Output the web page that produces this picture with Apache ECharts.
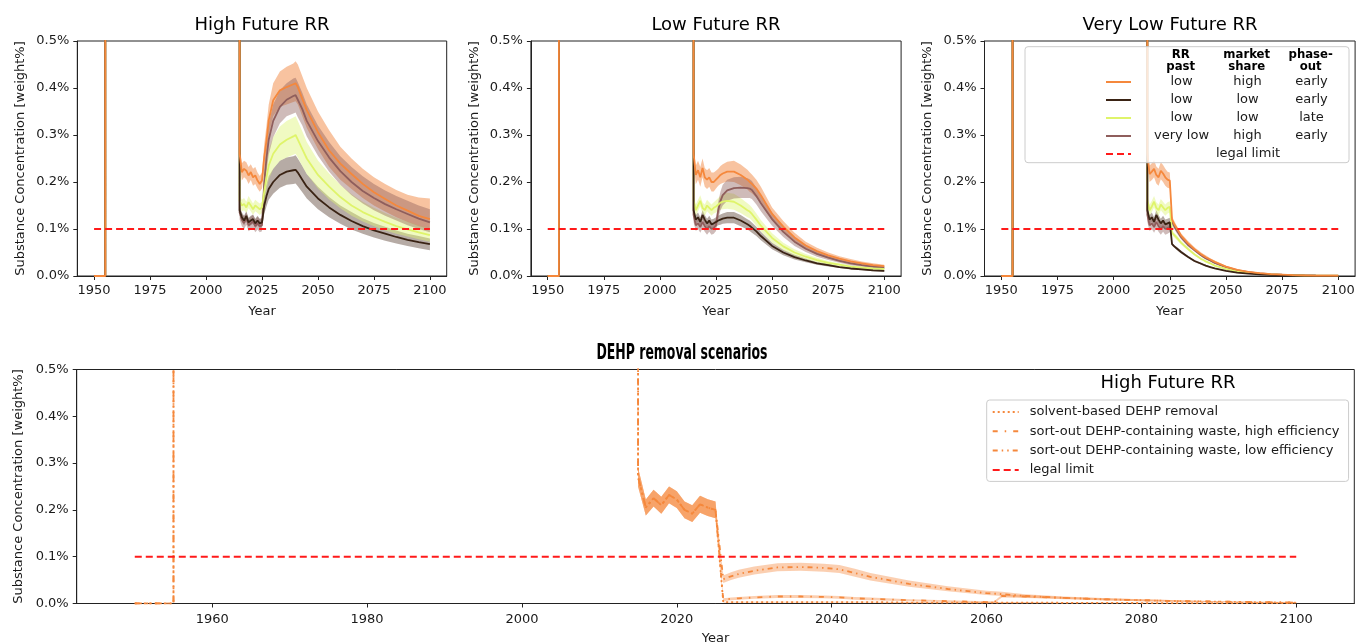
<!DOCTYPE html>
<html><head><meta charset="utf-8">
<script src="https://cdn.jsdelivr.net/npm/echarts@6/dist/echarts.min.js"></script>
<style>html,body{margin:0;padding:0;background:#fff}#c{width:1356px;height:644px}</style>
</head><body><div id="c"></div>
<script>
// ---------- shared axes ----------
const xTicksTop = [1950, 1975, 2000, 2025, 2050, 2075, 2100];
const xTicksBottom = [1960, 1980, 2000, 2020, 2040, 2060, 2080, 2100];
const panelTitles = ['High Future RR', 'Low Future RR', 'Very Low Future RR'];
const legalYears = [1950, 2100];
const legalValues = [0.1, 0.1];
// before 2015 all runs: zero until 1955, then above the 0.5% axis top until 2015
const preYears = [1950, 1955, 1955, 2015];
const preValues = [0, 0, 0.6, 0.6];

// ---------- top panels ----------
const years = [2015,2016,2017,2018,2019,2020,2021,2022,2023,2024,2025,2026,2027,2028,2030,2033,2036,2039,2040,2041,2043,2045,2050,2055,2060,2065,2070,2075,2080,2085,2090,2095,2100];
const legendRows = [['low','high','early'],['low','low','early'],['low','low','late'],['very low','high','early']];

// High future RR
const hOrange   = [.26,.221,.228,.224,.214,.221,.21,.214,.203,.196,.203,.253,.288,.331,.374,.395,.402,.408,.41,.402,.377,.353,.306,.267,.239,.217,.196,.178,.164,.15,.139,.128,.121];
const hOrangeHi = [.28,.24,.245,.242,.232,.238,.228,.232,.22,.213,.22,.28,.32,.365,.41,.435,.445,.452,.457,.45,.425,.4,.35,.31,.275,.25,.228,.21,.196,.183,.173,.167,.165];
const hOrangeLo = [.24,.203,.21,.206,.196,.204,.192,.196,.186,.179,.186,.225,.26,.3,.34,.36,.365,.37,.372,.365,.34,.315,.27,.232,.205,.185,.166,.15,.137,.125,.115,.106,.1];
const hBlack    = [.14,.125,.118,.128,.114,.118,.121,.112,.118,.112,.114,.15,.17,.185,.2,.215,.222,.225,.226,.22,.205,.19,.165,.146,.13,.117,.106,.097,.09,.083,.077,.072,.068];
const hBlackHi  = [.15,.135,.128,.138,.124,.128,.131,.122,.128,.122,.124,.17,.195,.212,.228,.245,.252,.255,.257,.25,.234,.217,.19,.168,.15,.136,.123,.113,.105,.097,.09,.085,.08];
const hBlackLo  = [.13,.115,.108,.118,.104,.108,.111,.102,.108,.102,.104,.132,.148,.162,.175,.188,.194,.196,.197,.191,.178,.165,.142,.125,.111,.099,.09,.082,.075,.069,.064,.059,.055];
const hYellow   = [.16,.15,.153,.146,.157,.15,.142,.15,.146,.142,.146,.18,.21,.235,.26,.28,.29,.297,.3,.29,.27,.25,.215,.19,.168,.15,.136,.125,.115,.106,.099,.093,.087];
const hYellowHi = [.172,.162,.166,.158,.17,.162,.154,.162,.158,.154,.158,.205,.24,.268,.295,.318,.33,.337,.34,.33,.308,.285,.246,.218,.194,.174,.158,.145,.134,.124,.116,.108,.1];
const hYellowLo = [.148,.138,.14,.134,.144,.138,.13,.138,.134,.13,.134,.158,.182,.205,.228,.245,.252,.258,.26,.252,.234,.217,.186,.163,.144,.128,.116,.106,.097,.09,.084,.078,.073];
const hBrown    = [.135,.12,.113,.123,.108,.112,.116,.106,.112,.106,.108,.2,.25,.29,.33,.36,.375,.383,.385,.375,.355,.33,.287,.252,.223,.2,.181,.166,.153,.142,.132,.122,.114];
const hBrownHi  = [.15,.132,.127,.136,.122,.126,.13,.12,.126,.12,.122,.225,.28,.325,.365,.395,.41,.42,.422,.412,.39,.365,.32,.285,.255,.232,.212,.196,.182,.17,.16,.15,.142];
const hBrownLo  = [.12,.106,.1,.109,.095,.099,.102,.093,.099,.093,.095,.175,.222,.258,.295,.325,.34,.346,.348,.338,.32,.297,.256,.222,.194,.172,.154,.14,.128,.118,.108,.1,.093];

// Low future RR
const lOrange   = [.26,.215,.225,.21,.23,.21,.205,.21,.2,.2,.205,.21,.215,.218,.222,.222,.215,.205,.2,.196,.186,.172,.132,.105,.082,.065,.053,.044,.037,.031,.027,.023,.021];
const lOrangeHi = [.28,.235,.245,.232,.25,.23,.225,.23,.22,.22,.224,.228,.234,.238,.243,.245,.237,.226,.221,.216,.205,.19,.146,.117,.092,.073,.06,.05,.042,.036,.031,.027,.024];
const lOrangeLo = [.24,.195,.205,.19,.21,.19,.185,.19,.18,.18,.186,.192,.196,.198,.201,.2,.193,.184,.179,.176,.167,.154,.118,.093,.072,.057,.046,.038,.032,.026,.023,.019,.018];
const lBlack    = [.14,.12,.125,.115,.13,.12,.112,.118,.11,.112,.115,.118,.12,.122,.124,.124,.118,.11,.107,.103,.095,.085,.064,.05,.04,.033,.027,.023,.019,.016,.014,.012,.011];
const lBlackHi  = [.15,.13,.135,.125,.14,.13,.122,.128,.12,.122,.125,.128,.131,.133,.136,.136,.13,.121,.118,.114,.105,.094,.071,.056,.045,.037,.03,.026,.021,.018,.016,.014,.013];
const lBlackLo  = [.13,.11,.115,.105,.12,.11,.102,.108,.1,.102,.105,.108,.109,.111,.112,.112,.106,.099,.096,.092,.085,.076,.057,.044,.035,.029,.024,.02,.017,.014,.012,.01,.009];
const lYellow   = [.16,.14,.15,.16,.145,.14,.15,.145,.14,.145,.148,.152,.156,.158,.16,.158,.15,.14,.137,.132,.12,.107,.081,.063,.05,.041,.034,.028,.024,.02,.018,.016,.015];
const lYellowHi = [.172,.152,.162,.172,.157,.152,.162,.157,.152,.157,.161,.166,.171,.174,.177,.175,.166,.155,.151,.146,.133,.119,.091,.071,.057,.047,.039,.032,.027,.023,.021,.018,.017];
const lYellowLo = [.148,.128,.138,.148,.133,.128,.138,.133,.128,.133,.135,.138,.141,.142,.143,.141,.134,.125,.123,.118,.107,.095,.071,.055,.043,.035,.029,.024,.021,.017,.015,.014,.013];
const lBrown    = [.13,.108,.112,.104,.115,.106,.1,.106,.1,.102,.108,.14,.16,.172,.182,.187,.188,.187,.186,.183,.17,.155,.121,.094,.073,.058,.047,.039,.032,.027,.023,.02,.018];
const lBrownHi  = [.145,.12,.124,.116,.128,.118,.112,.118,.112,.114,.12,.158,.18,.194,.205,.21,.211,.208,.206,.202,.188,.172,.135,.105,.082,.065,.053,.044,.036,.031,.026,.023,.021];
const lBrownLo  = [.115,.096,.1,.092,.102,.094,.088,.094,.088,.09,.096,.122,.14,.15,.16,.165,.166,.166,.166,.164,.152,.138,.107,.083,.064,.051,.041,.034,.028,.023,.02,.017,.015];

// Very low future RR
const vOrange   = [.26,.217,.222,.228,.215,.21,.224,.218,.21,.205,.203,.12,.11,.102,.086,.07,.057,.046,.043,.04,.035,.03,.02,.013,.009,.006,.004,.003,.002,.0015,.001,.001,.001];
const vOrangeHi = [.28,.235,.24,.247,.233,.228,.242,.236,.228,.222,.22,.127,.117,.108,.091,.075,.061,.05,.047,.044,.038,.033,.022,.015,.01,.007,.005,.004,.003,.002,.002,.0015,.0015];
const vOrangeLo = [.24,.2,.204,.21,.197,.192,.206,.2,.192,.188,.186,.113,.103,.096,.081,.065,.053,.042,.039,.036,.032,.027,.018,.011,.008,.005,.003,.002,.0015,.001,.0005,.0005,.0005];
const vBlack    = [.14,.12,.125,.115,.13,.12,.112,.118,.11,.112,.114,.068,.063,.059,.051,.041,.032,.026,.024,.022,.019,.016,.011,.007,.005,.0033,.0022,.0015,.001,.0007,.0005,.0004,.0003];
const vBlackHi  = [.15,.13,.135,.125,.14,.13,.122,.128,.12,.122,.124,.071,.066,.062,.054,.043,.034,.028,.026,.024,.02,.017,.012,.008,.0055,.0037,.0025,.0017,.0012,.0008,.0006,.0005,.0004];
const vBlackLo  = [.13,.11,.115,.105,.12,.11,.102,.108,.1,.102,.104,.065,.06,.056,.048,.039,.03,.024,.022,.02,.018,.015,.01,.006,.0045,.003,.002,.0013,.0008,.0006,.0004,.0003,.0002];
const vYellow   = [.16,.14,.148,.158,.145,.14,.152,.146,.14,.145,.147,.092,.087,.082,.071,.058,.046,.036,.034,.031,.027,.022,.015,.01,.007,.0048,.0033,.0023,.0016,.0011,.0008,.0006,.0005];
const vYellowHi = [.172,.152,.16,.17,.157,.152,.164,.158,.152,.157,.159,.097,.092,.087,.075,.061,.049,.038,.036,.033,.029,.024,.016,.011,.008,.0053,.0037,.0026,.0018,.0013,.0009,.0007,.0006];
const vYellowLo = [.148,.128,.136,.146,.133,.128,.14,.134,.128,.133,.135,.087,.082,.077,.067,.055,.043,.034,.032,.029,.025,.02,.014,.009,.006,.0043,.0029,.002,.0014,.0009,.0007,.0005,.0004];
const vBrown    = [.13,.108,.112,.104,.115,.106,.1,.106,.1,.102,.105,.115,.106,.098,.083,.067,.055,.044,.041,.038,.033,.028,.019,.012,.008,.0055,.0037,.0027,.0018,.0013,.001,.0008,.0008];
const vBrownHi  = [.145,.12,.124,.116,.128,.118,.112,.118,.112,.114,.117,.122,.112,.104,.088,.071,.058,.047,.044,.041,.035,.03,.021,.013,.009,.006,.004,.003,.002,.0015,.0012,.001,.001];
const vBrownLo  = [.115,.096,.1,.092,.102,.094,.088,.094,.088,.09,.093,.108,.1,.092,.078,.063,.052,.041,.038,.035,.031,.026,.017,.011,.007,.005,.0033,.0024,.0016,.0011,.0008,.0006,.0006];

// ---------- bottom panel: DEHP removal scenarios (High Future RR) ----------
const bYears = [2015,2016,2017,2018,2019,2020,2021,2022,2023,2024,2025,2026,2027,2028,2030,2033,2036,2039,2041,2043,2045,2050,2055,2060,2061,2062,2065,2070,2075,2080,2085,2090,2095,2100];
const scenarioNames = ['solvent-based DEHP removal','sort-out DEHP-containing waste, high efficiency','sort-out DEHP-containing waste, low efficiency'];
const solvent   = [.27,.205,.225,.21,.232,.222,.2,.192,.212,.205,.2,.003,.003,.003,.003,.003,.003,.003,.003,.003,.003,.002,.002,.002,.002,.002,.002,.0015,.0015,.001,.001,.001,.001,.001];
const solventHi = [.29,.222,.243,.228,.25,.24,.218,.21,.23,.223,.218,.004,.004,.004,.004,.004,.004,.004,.004,.004,.004,.003,.003,.003,.003,.003,.003,.002,.002,.0015,.0015,.0015,.0015,.0015];
const solventLo = [.25,.188,.207,.192,.214,.204,.182,.174,.194,.187,.182,.002,.002,.002,.002,.002,.002,.002,.002,.002,.002,.001,.001,.001,.001,.001,.001,.001,.001,.0005,.0005,.0005,.0005,.0005];
const highEff   = [.27,.205,.225,.21,.232,.222,.2,.192,.212,.205,.2,.008,.01,.011,.013,.015,.015,.014,.013,.011,.01,.007,.005,.003,.003,.016,.015,.012,.009,.007,.005,.004,.003,.002];
const highEffHi = [.29,.222,.243,.228,.25,.24,.218,.21,.23,.223,.218,.011,.013,.014,.016,.018,.018,.017,.016,.014,.013,.009,.007,.005,.005,.019,.018,.014,.011,.009,.007,.005,.004,.003];
const highEffLo = [.25,.188,.207,.192,.214,.204,.182,.174,.194,.187,.182,.005,.007,.008,.01,.012,.012,.011,.01,.008,.007,.005,.003,.001,.001,.013,.012,.01,.007,.005,.003,.003,.002,.001];
const lowEff    = [.27,.205,.225,.21,.232,.222,.2,.192,.212,.205,.2,.052,.058,.063,.07,.077,.078,.076,.073,.065,.057,.042,.031,.022,.021,.02,.016,.012,.009,.007,.005,.004,.003,.002];
const lowEffHi  = [.29,.222,.243,.228,.25,.24,.218,.21,.23,.223,.218,.06,.067,.072,.079,.086,.087,.085,.082,.074,.065,.049,.037,.027,.026,.025,.02,.015,.012,.009,.007,.005,.004,.003];
const lowEffLo  = [.25,.188,.207,.192,.214,.204,.182,.174,.194,.187,.182,.044,.05,.055,.062,.069,.07,.068,.065,.057,.049,.036,.026,.018,.017,.016,.013,.009,.007,.005,.004,.003,.002,.001];

// ---------- styling ----------
const FONT = 'DejaVu Sans';
const TXT = '#1a1a1a';
const LINE_COL = { orange: '#f5883c', black: '#3a2314', yellow: '#dff46a', brown: '#8f5e5c' };
const BAND_COL = { orange: 'rgba(242,136,66,0.5)', black: 'rgba(80,55,40,0.42)', yellow: 'rgba(222,245,120,0.45)', brown: 'rgba(140,92,88,0.42)' };
const LEGAL_COL = '#ff1a1a';
const gridsPx = [
  { left: 77.3, top: 41, width: 369.4, height: 235 },
  { left: 530.9, top: 41, width: 370.2, height: 235 },
  { left: 984.5, top: 41, width: 370.6, height: 235 },
  { left: 76.7, top: 369.5, width: 1277.6, height: 234 }
];

const pts = (xs, ys) => xs.map((x, i) => [x, ys[i]]);
const rowName = r => r.join(' / ');

const panels = [
  { orange: [hOrange, hOrangeLo, hOrangeHi], black: [hBlack, hBlackLo, hBlackHi], yellow: [hYellow, hYellowLo, hYellowHi], brown: [hBrown, hBrownLo, hBrownHi] },
  { orange: [lOrange, lOrangeLo, lOrangeHi], black: [lBlack, lBlackLo, lBlackHi], yellow: [lYellow, lYellowLo, lYellowHi], brown: [lBrown, lBrownLo, lBrownHi] },
  { orange: [vOrange, vOrangeLo, vOrangeHi], black: [vBlack, vBlackLo, vBlackHi], yellow: [vYellow, vYellowLo, vYellowHi], brown: [vBrown, vBrownLo, vBrownHi] }
];
const keyOrder = ['orange', 'black', 'yellow', 'brown'];

const series = [];
// uncertainty band: one polygon through the axis scales (upper edge forward, lower edge back)
function band(gi, xs, lo, hi, color) {
  series.push({
    type: 'custom', xAxisIndex: gi, yAxisIndex: gi, silent: true, clip: true, z: 2,
    data: xs.map((x, i) => [x, lo[i], hi[i]]),
    encode: { x: 0, y: [1, 2] },
    renderItem: (params, api) => {
      if (params.dataIndex !== 0) return null;
      const up = xs.map((x, i) => api.coord([x, hi[i]]));
      const dn = xs.map((x, i) => api.coord([x, lo[i]])).reverse();
      return { type: 'polygon', shape: { points: up.concat(dn) }, style: { fill: color } };
    }
  });
}
function legal(gi) {
  series.push({ name: 'legal limit', type: 'line', xAxisIndex: gi, yAxisIndex: gi, data: pts(legalYears, legalValues), symbol: 'none', lineStyle: { color: LEGAL_COL, width: 2, type: [7, 4] }, itemStyle: { color: LEGAL_COL }, z: 4 });
}

panels.forEach((p, gi) => {
  keyOrder.forEach(k => band(gi, years, p[k][1], p[k][2], BAND_COL[k]));
  ['brown', 'yellow', 'black', 'orange'].forEach(k => {
    const idx = keyOrder.indexOf(k);
    series.push({ name: rowName(legendRows[idx]), type: 'line', xAxisIndex: gi, yAxisIndex: gi, symbol: 'none',
      data: pts(preYears, preValues).concat(pts(years, p[k][0])),
      lineStyle: { color: LINE_COL[k], width: 1.8 }, itemStyle: { color: LINE_COL[k] }, z: 3 });
  });
  legal(gi);
});

// bottom panel
const scen = [[solvent, solventLo, solventHi], [highEff, highEffLo, highEffHi], [lowEff, lowEffLo, lowEffHi]];
const scenDash = [[2, 3], [5, 7, 1.5, 7], [5, 4, 1.5, 4, 1.5, 4]];
scen.forEach((s, i) => band(3, bYears, s[1], s[2], 'rgba(245,140,70,0.42)'));
[2, 1, 0].forEach(i => {
  series.push({ name: scenarioNames[i], type: 'line', xAxisIndex: 3, yAxisIndex: 3, symbol: 'none',
    data: pts(preYears, preValues).concat(pts(bYears, scen[i][0])),
    lineStyle: { color: LINE_COL.orange, width: 1.8, type: scenDash[i] }, itemStyle: { color: LINE_COL.orange }, z: 3 });
});
legal(3);

const xAxes = gridsPx.map((g, i) => ({
  type: 'value', gridIndex: i, min: 1942.5, max: 2107.5,
  name: 'Year', nameLocation: 'middle', nameGap: 29,
  nameTextStyle: { fontFamily: FONT, fontSize: 13, color: TXT },
  axisLine: { show: true, lineStyle: { color: '#222', width: 1 } },
  axisTick: { show: true, inside: false, length: 4, lineStyle: { color: '#222' }, customValues: i < 3 ? xTicksTop : xTicksBottom },
  axisLabel: { show: true, margin: i < 3 ? 8 : 10, fontFamily: FONT, fontSize: 13, color: TXT, customValues: i < 3 ? xTicksTop : xTicksBottom, formatter: v => String(v) },
  splitLine: { show: false }
}));
const yAxes = gridsPx.map((g, i) => ({
  type: 'value', gridIndex: i, min: 0, max: 0.5, interval: 0.1,
  name: 'Substance Concentration [weight%]', nameLocation: 'middle', nameGap: 50,
  nameTextStyle: { fontFamily: FONT, fontSize: 13, color: TXT },
  axisLine: { show: true, lineStyle: { color: '#222', width: 1 } },
  axisTick: { show: true, inside: false, length: 4, lineStyle: { color: '#222' } },
  axisLabel: { margin: 8, fontFamily: FONT, fontSize: 13, color: TXT, formatter: v => v.toFixed(1) + '%' },
  splitLine: { show: false }
}));

const titleBase = { padding: 0, textAlign: 'center', textStyle: { fontFamily: FONT, fontSize: 18, fontWeight: 'normal', color: '#000' } };
const titles = [
  Object.assign({}, titleBase, { text: panelTitles[0], left: 262, top: 16 }),
  Object.assign({}, titleBase, { text: panelTitles[1], left: 716, top: 16 }),
  Object.assign({}, titleBase, { text: panelTitles[2], left: 1170, top: 16 }),
  Object.assign({}, titleBase, { text: panelTitles[0], left: 1168, top: 374 })
];

const colRich = {
  a: { width: 91, align: 'center', fontFamily: FONT, fontSize: 13, color: TXT, lineHeight: 14 },
  b: { width: 41, align: 'center', fontFamily: FONT, fontSize: 13, color: TXT, lineHeight: 14 },
  c: { width: 87, align: 'center', fontFamily: FONT, fontSize: 13, color: TXT, lineHeight: 14 },
  s: { width: 72, fontFamily: FONT, fontSize: 13, lineHeight: 14 },
  l: { width: 80, align: 'center', fontFamily: FONT, fontSize: 13, color: TXT, lineHeight: 14 }
};
const headStyle = { align: 'center', verticalAlign: 'middle', fontFamily: 'DejaVu Sans Condensed', fontWeight: 'bold', fontSize: 13, lineHeight: 12, fill: '#000' };

const option = {
  animation: false,
  backgroundColor: '#fff',
  title: titles,
  grid: gridsPx.map(g => Object.assign({ show: true, borderColor: '#222', borderWidth: 1, backgroundColor: 'transparent', containLabel: false, outerBoundsMode: 'none' }, g)),
  xAxis: xAxes,
  yAxis: yAxes,
  legend: [
    {
      data: legendRows.map(rowName).concat(['legal limit']),
      orient: 'vertical', left: 1105, top: 75.5, padding: 0, itemGap: 5, itemWidth: 25, itemHeight: 14,
      z: 6, selectedMode: false, itemStyle: { opacity: 0, borderWidth: 0 },
      textStyle: { fontFamily: FONT, fontSize: 13, color: TXT, rich: colRich },
      formatter: name => {
        if (name === 'legal limit') return '{s|}{l|legal limit}';
        const p = name.split(' / ');
        return '{a|' + p[0] + '}{b|' + p[1] + '}{c|' + p[2] + '}';
      }
    },
    {
      data: scenarioNames.concat(['legal limit']),
      orient: 'vertical', left: 986.7, top: 400, padding: [5.5, 9, 5, 5], itemGap: 6.3, itemWidth: 26, itemHeight: 14,
      backgroundColor: 'rgba(255,255,255,0.8)', borderColor: '#cccccc', borderWidth: 1, borderRadius: 3,
      z: 6, selectedMode: false, itemStyle: { opacity: 0, borderWidth: 0 },
      textStyle: { fontFamily: FONT, fontSize: 13, color: TXT, padding: [0, 0, 0, 6] }
    }
  ],
  graphic: [
    { type: 'rect', z: 5, shape: { x: 1025, y: 46.7, width: 324, height: 116, r: 3 }, style: { fill: 'rgba(255,255,255,0.8)', stroke: '#cccccc', lineWidth: 1 } },
    { type: 'text', z: 6, style: Object.assign({ text: 'RR\npast', x: 1180.7, y: 61 }, headStyle) },
    { type: 'text', z: 6, style: Object.assign({ text: 'market\nshare', x: 1246.7, y: 61 }, headStyle) },
    { type: 'text', z: 6, style: Object.assign({ text: 'phase-\nout', x: 1310.7, y: 61 }, headStyle) },
    { type: 'text', z: 6, x: 682, y: 353, scaleX: 0.63, style: { text: 'DEHP removal scenarios', x: 0, y: 0, align: 'center', verticalAlign: 'middle', fontFamily: 'DejaVu Sans Condensed', fontWeight: 'bold', fontSize: 22, fill: '#000' } }
  ],
  series: series
};

const chart = echarts.init(document.getElementById('c'), null, { renderer: 'canvas' });
chart.setOption(option);
</script>
</body></html>
